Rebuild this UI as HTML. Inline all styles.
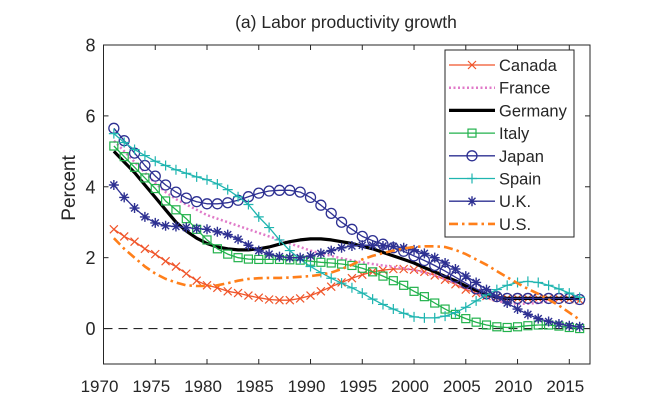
<!DOCTYPE html>
<html><head><meta charset="utf-8"><style>
body{margin:0;background:#fff;}
svg text{font-family:"Liberation Sans",Arial,sans-serif;fill:#262626;}
</style></head><body>
<svg id="chart" width="664" height="404" viewBox="0 0 664 404" xmlns="http://www.w3.org/2000/svg">
<rect width="664" height="404" fill="#fff"/>
<text x="346" y="28" font-size="17.5" text-anchor="middle">(a) Labor productivity growth</text>
<text x="0" y="0" font-size="19" text-anchor="middle" transform="translate(75,188) rotate(-90)">Percent</text>
<g id="axes"></g>
<g id="series"></g>
<g id="legend"></g>
</svg>
<script>
const years = [];
for (let y = 1971; y <= 2016; y++) years.push(y);
const canada = [2.8,2.6,2.45,2.25,2.1,1.9,1.75,1.55,1.35,1.22,1.15,1.05,1.0,0.93,0.87,0.82,0.8,0.8,0.85,0.93,1.05,1.18,1.3,1.42,1.52,1.6,1.65,1.68,1.68,1.66,1.6,1.5,1.38,1.25,1.1,1.0,0.92,0.88,0.85,0.85,0.85,0.85,0.85,0.85,0.83,0.8];
const france = [5.3,5.0,4.7,4.4,4.1,3.85,3.65,3.5,3.35,3.2,3.1,3.0,2.9,2.8,2.7,2.6,2.5,2.4,2.3,2.2,2.12,2.05,1.98,1.92,1.87,1.82,1.78,1.74,1.7,1.65,1.58,1.5,1.4,1.28,1.15,1.0,0.88,0.78,0.72,0.7,0.7,0.72,0.78,0.83,0.85,0.85];
const germany = [5.0,4.7,4.4,4.05,3.7,3.35,3.0,2.75,2.55,2.4,2.3,2.25,2.22,2.22,2.25,2.3,2.38,2.45,2.5,2.53,2.53,2.5,2.45,2.4,2.32,2.25,2.15,2.05,1.95,1.85,1.72,1.6,1.47,1.35,1.2,1.08,0.97,0.88,0.85,0.85,0.85,0.85,0.85,0.85,0.85,0.85];
const italy = [5.15,4.85,4.55,4.25,3.95,3.6,3.35,3.1,2.8,2.5,2.25,2.1,2.0,1.96,1.95,1.95,1.95,1.94,1.93,1.9,1.87,1.85,1.82,1.78,1.7,1.6,1.48,1.35,1.22,1.05,0.9,0.72,0.55,0.4,0.28,0.18,0.1,0.05,0.03,0.05,0.08,0.1,0.1,0.07,0.03,0.0];
const japan = [5.65,5.3,4.95,4.6,4.3,4.05,3.85,3.68,3.58,3.52,3.52,3.55,3.62,3.72,3.82,3.88,3.9,3.9,3.85,3.7,3.48,3.25,3.0,2.8,2.6,2.48,2.38,2.28,2.18,2.05,1.92,1.78,1.62,1.45,1.28,1.12,0.98,0.9,0.85,0.85,0.85,0.85,0.85,0.85,0.85,0.82];
const spain = [5.5,5.25,5.05,4.88,4.72,4.6,4.48,4.38,4.28,4.2,4.08,3.92,3.72,3.5,3.15,2.85,2.5,2.2,1.95,1.75,1.58,1.42,1.28,1.15,1.0,0.83,0.68,0.55,0.43,0.33,0.3,0.3,0.35,0.45,0.6,0.78,0.95,1.1,1.22,1.3,1.33,1.3,1.22,1.12,1.0,0.88];
const uk = [4.05,3.7,3.4,3.15,2.98,2.9,2.88,2.85,2.82,2.8,2.73,2.65,2.52,2.35,2.2,2.1,2.03,2.0,2.0,2.05,2.12,2.2,2.28,2.33,2.35,2.35,2.33,2.32,2.28,2.22,2.12,2.0,1.85,1.68,1.48,1.3,1.1,0.9,0.72,0.55,0.4,0.28,0.2,0.13,0.08,0.05];
const us = [2.55,2.25,2.0,1.75,1.55,1.4,1.3,1.22,1.2,1.2,1.22,1.28,1.35,1.4,1.42,1.43,1.43,1.44,1.46,1.48,1.52,1.58,1.68,1.8,1.95,2.05,2.13,2.2,2.26,2.3,2.32,2.32,2.3,2.22,2.1,1.95,1.8,1.62,1.45,1.28,1.12,0.98,0.82,0.65,0.45,0.25];
const xTicks = [1970,1975,1980,1985,1990,1995,2000,2005,2010,2015];
const yTicks = [0,2,4,6,8];

const NS = "http://www.w3.org/2000/svg";
const L = 103.5, R = 590, T = 45, B = 364;
const xMin = 1970, xMax = 2017, yMin = -1, yMax = 8;
const xs = v => L + (v - xMin) / (xMax - xMin) * (R - L);
const ys = v => B - (v - yMin) / (yMax - yMin) * (B - T);
function mk(tag, attrs, parent){ const e=document.createElementNS(NS,tag); for(const k in attrs) e.setAttribute(k,attrs[k]); parent.appendChild(e); return e; }

const axes = document.getElementById('axes');
const frame = mk('rect',{x:L,y:T,width:R-L,height:B-T,fill:'none',stroke:'#262626','stroke-width':1},axes);


const zero = mk('line',{x1:L,x2:R,y1:ys(0),y2:ys(0),stroke:'#262626','stroke-width':1.2,'stroke-dasharray':'9,6'},axes);


xTicks.forEach(t=>{
  const x = xs(t);
  mk('line',{x1:x,x2:x,y1:B,y2:B-5,stroke:'#262626'},axes);
  mk('line',{x1:x,x2:x,y1:T,y2:T+5,stroke:'#262626'},axes);
  const tx = mk('text',{x:x-4,y:B+28,'font-size':17,'text-anchor':'middle'},axes);
  tx.textContent = t;
  
  
});
yTicks.forEach(t=>{
  const y = ys(t);
  mk('line',{x1:L,x2:L+5,y1:y,y2:y,stroke:'#262626'},axes);
  mk('line',{x1:R,x2:R-5,y1:y,y2:y,stroke:'#262626'},axes);
  const tx = mk('text',{x:L-8,y:y+6.5,'font-size':18,'text-anchor':'end'},axes);
  tx.textContent = t;
  
  
});

function marker(g, type, x, y, color){
  const s=4;
  if(type==='x'){ mk('path',{d:`M${x-s} ${y-s}L${x+s} ${y+s}M${x-s} ${y+s}L${x+s} ${y-s}`,stroke:color,'stroke-width':1.2,fill:'none'},g); }
  else if(type==='sq'){ mk('rect',{x:x-4,y:y-4,width:8,height:8,stroke:color,'stroke-width':1.2,fill:'none'},g); }
  else if(type==='o'){ mk('circle',{cx:x,cy:y,r:5,stroke:color,'stroke-width':1.3,fill:'none'},g); }
  else if(type==='+'){ mk('path',{d:`M${x-5} ${y}L${x+5} ${y}M${x} ${y-5}L${x} ${y+5}`,stroke:color,'stroke-width':1.2,fill:'none'},g); }
  else if(type==='*'){ mk('path',{d:`M${x-5} ${y}L${x+5} ${y}M${x} ${y-5}L${x} ${y+5}M${x-3.5} ${y-3.5}L${x+3.5} ${y+3.5}M${x-3.5} ${y+3.5}L${x+3.5} ${y-3.5}`,stroke:color,'stroke-width':1.4,fill:'none'},g); }
}
const seriesDefs = [
  {name:'Canada',data:canada,color:'#f0552a',w:1.3,dash:null,m:'x'},
  {name:'France',data:france,color:'#e07ac8',w:2.5,dash:'2,2.5',m:null},
  {name:'Germany',data:germany,color:'#000000',w:3.2,dash:null,m:null},
  {name:'Italy',data:italy,color:'#22b24c',w:1.3,dash:null,m:'sq'},
  {name:'Japan',data:japan,color:'#2e3192',w:1.3,dash:null,m:'o'},
  {name:'Spain',data:spain,color:'#1fb5b0',w:1.3,dash:null,m:'+'},
  {name:'U.K.',data:uk,color:'#2e3192',w:1.3,dash:null,m:'*'},
  {name:'U.S.',data:us,color:'#ff7f1a',w:2.6,dash:'9,4,2.5,4',m:null}
];
const sg = document.getElementById('series');
seriesDefs.forEach(s=>{
  const g = mk('g',{},sg);
  
  
  const d = s.data.map((v,i)=>(i?'L':'M')+xs(years[i]).toFixed(1)+' '+ys(v).toFixed(1)).join('');
  const p = mk('path',{d:d,fill:'none',stroke:s.color,'stroke-width':s.w,'stroke-linejoin':'round'},g);
  if(s.dash) p.setAttribute('stroke-dasharray',s.dash);
  if(s.m) s.data.forEach((v,i)=>marker(g,s.m,xs(years[i]),ys(v),s.color));
});

const lg = document.getElementById('legend');
const box = mk('rect',{x:445,y:50,width:129,height:187,fill:'#fff',stroke:'#262626','stroke-width':1},lg);


seriesDefs.forEach((s,i)=>{
  const y = 65 + i*22.7;
  const g = mk('g',{},lg);
  
  
  const ln = mk('line',{x1:449,x2:495,y1:y,y2:y,stroke:s.color,'stroke-width':s.w},g);
  if(s.dash) ln.setAttribute('stroke-dasharray',s.dash);
  if(s.m) marker(g,s.m,472,y,s.color);
  const t = mk('text',{x:499,y:y+6,'font-size':16.5},g);
  t.textContent = s.name;
});
</script>
</body></html>
